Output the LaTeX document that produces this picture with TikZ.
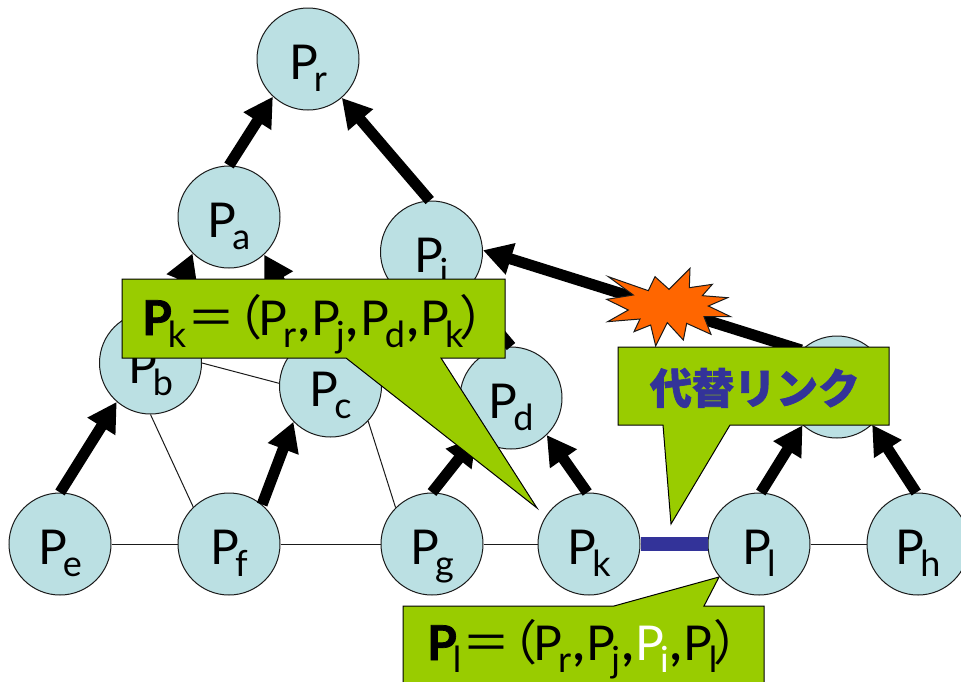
\documentclass[tikz,border=0pt]{standalone}
\usepackage{fontspec}
\usetikzlibrary{arrows.meta}
\setmainfont{Lato}
\newfontfamily\cjkfont[BoldFeatures={FakeBold=1.5}]{Noto Sans CJK JP}
\newfontfamily\heavyfont[BoldFeatures={FakeBold=1.5}]{Lato}
\definecolor{nodefill}{HTML}{BBE0E3}
\definecolor{callgreen}{HTML}{99CC00}
\definecolor{burstorange}{HTML}{FF6600}
\definecolor{linkblue}{HTML}{333399}
\definecolor{ink}{HTML}{1A1A1A}
\newcommand{\subt}[1]{\hspace{-4pt}\raisebox{-12pt}{\fontsize{36}{36}\selectfont #1}}
\newcommand{\PP}[1]{P\subt{#1}}
\newcommand{\Peq}{\hspace{1pt}{\cjkfont ＝}}
\newcommand{\Plp}{\hspace{-21pt}{\cjkfont （}\hspace{-4pt}}
\newcommand{\Prp}{\hspace{-4pt}{\cjkfont ）}}
\newcommand{\cm}{\hspace{2pt}\textbf{,}\hspace{2pt}}
\tikzset{
  peer/.style={circle,draw=ink,line width=1pt,fill=nodefill,minimum size=102pt,inner sep=0pt,
    text=black,text height=40pt,text depth=0pt,font=\fontsize{48}{48}\selectfont},
  arr/.style={line width=11pt,draw=black,-{Triangle[length=29pt,width=31pt]}},
  thinlink/.style={line width=1pt,draw=ink},
  altlink/.style={line width=14pt,draw=linkblue},
  call/.style={draw=black,line width=1pt,fill=callgreen,line join=miter},
  calltext/.style={inner sep=0pt,anchor=base west,text=black,font=\fontsize{48}{48}\selectfont},
}
\begin{document}
\begin{tikzpicture}[x=1pt,y=-1pt]
\useasboundingbox (0,0) rectangle (961,681);
\clip (0,0) rectangle (961,681);
\node[peer] (Pr) at (308,59) {\PP{r}};
\node[peer] (Pa) at (229,217) {\PP{a}};
\node[peer] (Pj) at (431.5,252) {\PP{j}};
\node[peer] (Pb) at (150.5,363) {\PP{b}};
\node[peer] (Pc) at (330.5,386) {\PP{c}};
\node[peer] (Pd) at (511,398) {\PP{d}};
\node[peer] (Pi) at (837,387) {};
\node[peer] (Pe) at (60,544) {\PP{e}};
\node[peer] (Pf) at (229,544) {\PP{f}};
\node[peer] (Pg) at (432,544) {\PP{g}};
\node[peer] (Pk) at (589,544) {\PP{k}};
\node[peer] (Pl) at (759,544) {\PP{l}};
\node[peer] (Ph) at (918,544) {\PP{h}};

\draw[thinlink] (Pe) -- (Pf);
\draw[thinlink] (Pf) -- (Pg);
\draw[thinlink] (Pg) -- (Pk);
\draw[thinlink] (Pl) -- (Ph);
\draw[thinlink] (Pb.270) -- (Pf.134);
\draw[thinlink] (Pb.0) -- (Pc.177);
\draw[thinlink] (Pc.317) -- (Pg.135);
\draw[altlink] (Pk) -- (Pl);

\draw[arr] (Pa.90) -- (Pr.227);
\draw[arr] (Pj.92) -- (Pr.311);
\draw[arr] (Pb.70) -- (Pa.225);
\draw[arr] (Pc.110) -- (Pa.313);
\draw[arr] (Pe.90) -- (Pb.229);
\draw[arr] (Pf.50) -- (Pc.224);
\draw[arr] (Pg.90) -- (Pd.228);
\draw[arr] (Pk.92) -- (Pd.314);
\draw[arr] (Pd.90) -- (Pj.310);
\draw[arr] (Pl.88) -- (Pi.228);
\draw[arr] (Ph.92) -- (Pi.313);
\draw[arr] (Pi.134) -- (Pj.2);

\begin{scope}[shift={(480,240)},x=0.33333pt,y=-0.33333pt]
\draw[draw=ink,line width=1pt,fill=burstorange]
 (385,110)--(505,152)--(525,110)--(567,148)--(630,85)--(628,143)--(697,133)--(667,167)
 --(743,173)--(685,198)--(752,230)--(672,230)--(693,283)--(620,250)--(610,300)--(562,248)
 --(527,318)--(512,255)--(462,275)--(480,237)--(383,245)--(445,210)--(380,178)--(460,165)--cycle;
\end{scope}

\draw[call] (122,279)--(505,279)--(505,358)--(441,358)--(537,508)--(346,358)--(122,358)--cycle;
\node[calltext] (labK) at (142,335) {{\heavyfont\bfseries P}\subt{k}\Peq\Plp\PP{r}\cm\PP{j}\cm\PP{d}\cm\PP{k}\Prp};

\draw[call] (618,347)--(889,347)--(889,425)--(730,425)--(671,524)--(663,425)--(618,425)--cycle;
\node[inner sep=0pt,text=linkblue,font=\cjkfont\bfseries\fontsize{42}{42}\selectfont] (labAlt) at (755,388) {代替リンク};

\draw[call] (403,606)--(614,606)--(719,577)--(704,606)--(764,606)--(764,700)--(403,700)--cycle;
\node[calltext] (labL) at (427,660) {{\heavyfont\bfseries P}\subt{l}\Peq\Plp\PP{r}\cm\PP{j}\cm\textcolor{white}{\PP{i}}\cm\PP{l}\Prp};
\end{tikzpicture}
\end{document}
